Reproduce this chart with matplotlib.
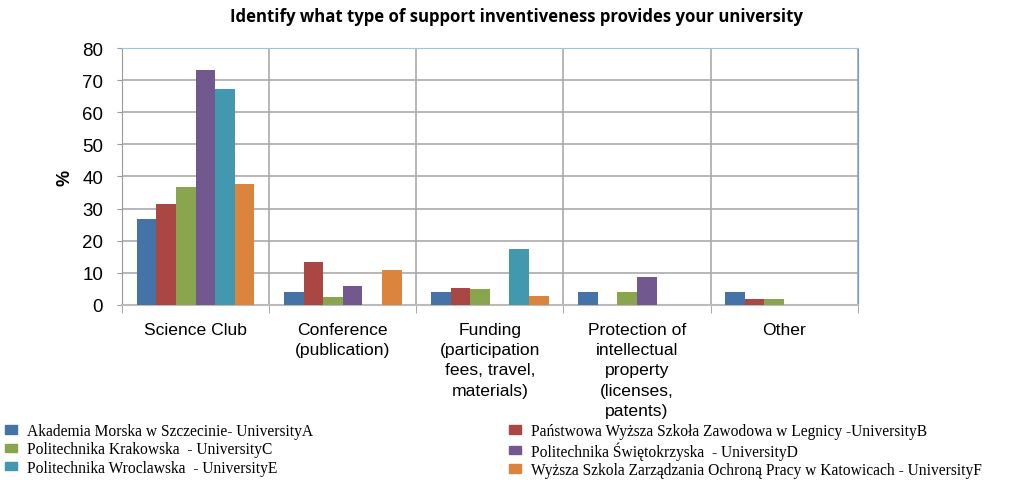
import numpy as np
import matplotlib.pyplot as plt
from matplotlib.patches import Patch

categories = ['Science Club', 'Conference\n(publication)', 'Funding\n(participation\nfees, travel,\nmaterials)',
              'Protection of\nintellectual\nproperty\n(licenses,\npatents)', 'Other']
universities = ['Akademia Morska w Szczecinie- UniversityA',
                'Państwowa Wyższa Szkoła Zawodowa w Legnicy -UniversityB',
                'Politechnika Krakowska  - UniversityC',
                'Politechnika Świętokrzyska  - UniversityD',
                'Politechnika Wroclawska  - UniversityE',
                'Wyższa Szkola Zarządzania Ochroną Pracy w Katowicach - UniversityF']
uni_a = [26.7, 4.0, 4.0, 4.0, 4.0]
uni_b = [31.4, 13.3, 5.3, 0, 1.7]
uni_c = [36.8, 2.6, 5.0, 4.0, 1.7]
uni_d = [73.3, 5.8, 0, 8.8, 0]
uni_e = [67.3, 0, 17.5, 0, 0]
uni_f = [37.8, 11.0, 2.7, 0, 0]
series = [uni_a, uni_b, uni_c, uni_d, uni_e, uni_f]
colors = ['#4572A7', '#AA4643', '#89A54E', '#71588F', '#4198AF', '#DB843D']

fig = plt.figure(figsize=(10.09, 4.81), dpi=100)
ax = fig.add_axes([0.121, 0.364, 0.729, 0.534])

x = np.arange(len(categories))
w = 0.8 / 6
for i, (vals, c) in enumerate(zip(series, colors)):
    ax.bar(x - 0.4 + w * (i + 0.5), vals, w, color=c, zorder=3)

ax.set_xlim(-0.5, len(categories) - 0.5)
ax.set_ylim(0, 80)
ax.set_yticks(range(0, 81, 10))
ax.set_xticks(x)
ax.set_xticklabels(categories, fontsize=12.6, family='Liberation Sans', linespacing=1.45)
ax.set_xticks(np.arange(-0.5, len(categories), 1), minor=True)
ax.tick_params(axis='x', which='major', length=0, pad=12)
ax.tick_params(axis='x', which='minor', length=6, color='#999999')
ax.tick_params(axis='y', length=3.6, color='#999999', labelsize=13.5, pad=10)
for t in ax.get_yticklabels():
    t.set_family('Liberation Sans')
ax.grid(axis='y', color='#aaaaaa', lw=1.2, zorder=0)
ax.grid(axis='x', which='minor', color='#aaaaaa', lw=1.2, zorder=0)
ax.spines['left'].set_color('#999999')
ax.spines['bottom'].set_color('#bbbbbb')
ax.spines['bottom'].set_linewidth(1.5)
ax.spines['top'].set_color('#9dc3e6')
ax.spines['right'].set_color('#6a9fd8')
ax.set_ylabel('%', fontsize=13, family='Liberation Sans', fontweight='bold', labelpad=6)

fig.text(0.512, 0.965, 'Identify what type of support inventiveness provides your university',
         ha='center', va='center', fontsize=12.1, fontweight='bold', family='Open Sans')

# row-major order: A|B, C|D, E|F
order = [0, 2, 4, 1, 3, 5]
handles = [Patch(color=colors[i]) for i in order]
labels = [universities[i] for i in order]
fig.legend(handles, labels, loc='lower left', bbox_to_anchor=(0.005, 0.004), ncol=2,
           frameon=False, prop={'family': 'Liberation Serif', 'size': 11.2},
           handlelength=0.8, handleheight=0.45, handletextpad=0.6,
           labelspacing=0.15, columnspacing=12.6, borderaxespad=0, borderpad=0)

fig.savefig('out.png', dpi=100)
